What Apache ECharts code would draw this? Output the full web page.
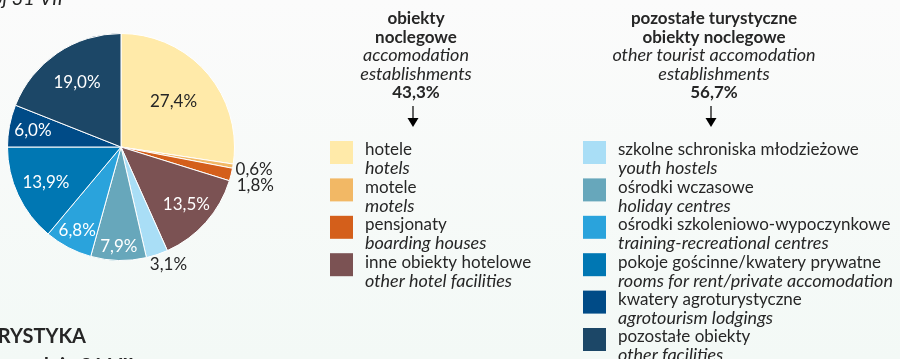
<!DOCTYPE html>
<html>
<head>
<meta charset="utf-8">
<script src="https://cdn.jsdelivr.net/npm/echarts@6/dist/echarts.min.js"></script>
<style>
  html, body { margin: 0; padding: 0; }
  #chart { width: 900px; height: 359px; }
</style>
</head>
<body>
<div id="chart"></div>
<script>
// Structure of tourist accommodation (share of establishments, %)
const hotelNamesPl = ['hotele', 'motele', 'pensjonaty', 'inne obiekty hotelowe'];
const hotelNamesEn = ['hotels', 'motels', 'boarding houses', 'other hotel facilities'];
const hotelShares = [27.4, 0.6, 1.8, 13.5];

const otherNamesPl = ['szkolne schroniska młodzieżowe', 'ośrodki wczasowe', 'ośrodki szkoleniowo-wypoczynkowe',
  'pokoje gościnne/kwatery prywatne', 'kwatery agroturystyczne', 'pozostałe obiekty'];
const otherNamesEn = ['youth hostels', 'holiday centres', 'training-recreational centres',
  'rooms for rent/private accomodation', 'agrotourism lodgings', 'other facilities'];
const otherShares = [3.1, 7.9, 6.8, 13.9, 6.0, 19.0];

const groupTitles = [
  { pl: ['obiekty', 'noclegowe'], en: ['accomodation', 'establishments'] },
  { pl: ['pozostałe turystyczne', 'obiekty noclegowe'], en: ['other tourist accomodation', 'establishments'] }
];

const hotelColors = ['#FFEAA9', '#F2B865', '#D45F1B', '#7B5253'];
const otherColors = ['#A9DEF6', '#67A7BB', '#2AA3DC', '#0077B3', '#004B87', '#1C4767'];

const FONT = 'Lato, "Open Sans", sans-serif';
const TEXT = '#262626';
const CENTER = [121, 147];
const RADIUS = 113.5;

const allShares = hotelShares.concat(otherShares);
const allColors = hotelColors.concat(otherColors);
const allNames = hotelNamesPl.concat(otherNamesPl);
const total = allShares.reduce((a, b) => a + b, 0);

// label distance from centre, as a fraction of the radius, per slice
const labelRadius = [0.61, 1.19, 1.22, 0.77, 1.12, 0.88, 0.83, 0.73, 0.79, 0.69];
const labelNudge = { 2: [0, 5], 4: [7, -3] };
const outsideLabel = [false, true, true, false, true, false, false, false, false, false];

const fmt = v => v.toFixed(1).replace('.', ',') + '%';

const pieData = allShares.map((v, i) => ({
  name: allNames[i],
  value: v,
  itemStyle: { color: allColors[i] },
  label: { color: (i === 0 || outsideLabel[i]) ? TEXT : '#ffffff' }
}));

function midAngle(i) {
  let before = 0;
  for (let k = 0; k < i; k++) before += allShares[k];
  return (before + allShares[i] / 2) / total * Math.PI * 2;
}

// legend blocks
const graphics = [];
function legendColumn(x0, namesPl, namesEn, colors) {
  const top0 = 141, step = 37.4;
  namesPl.forEach((n, i) => {
    const top = top0 + i * step;
    graphics.push({ type: 'rect', shape: { x: x0, y: top, width: 23, height: 23 }, style: { fill: colors[i] } });
    graphics.push({ type: 'text', x: x0 + 35, y: top + 9,
      style: { text: n, font: '17px ' + FONT, fill: TEXT, verticalAlign: 'middle' } });
    graphics.push({ type: 'text', x: x0 + 35, y: top + 27.5,
      style: { text: namesEn[i], font: 'italic 18px ' + FONT, fill: TEXT, verticalAlign: 'middle' } });
  });
}
legendColumn(330, hotelNamesPl, hotelNamesEn, hotelColors);
legendColumn(583, otherNamesPl, otherNamesEn, otherColors);

function header(cx, title, share) {
  const lines = [
    { t: title.pl[0], f: 'bold 17px ' + FONT },
    { t: title.pl[1], f: 'bold 17px ' + FONT },
    { t: title.en[0], f: 'italic 18px ' + FONT },
    { t: title.en[1], f: 'italic 18px ' + FONT },
    { t: fmt(share), f: 'bold 17px ' + FONT }
  ];
  lines.forEach((l, i) => {
    graphics.push({ type: 'text', x: cx, y: 19 + i * 18.3,
      style: { text: l.t, font: l.f, fill: TEXT, align: 'center', verticalAlign: 'middle' } });
  });
  const ax = cx - 3;
  graphics.push({ type: 'line', shape: { x1: ax, y1: 106, x2: ax, y2: 119 }, style: { stroke: '#000', lineWidth: 1.2 } });
  graphics.push({ type: 'polygon', shape: { points: [[ax - 5.5, 118], [ax + 5.5, 118], [ax, 127]] }, style: { fill: '#000' } });
}
header(416, groupTitles[0], hotelShares.reduce((a, b) => a + b, 0));
header(714, groupTitles[1], otherShares.reduce((a, b) => a + b, 0));

// fragments of neighbouring panel titles
graphics.push({ type: 'text', x: -8, y: 9,
  style: { text: 'oj 31 VII', font: 'italic 20px ' + FONT, fill: TEXT, verticalAlign: 'bottom' } });
graphics.push({ type: 'text', x: 86, y: 347,
  style: { text: 'TURYSTYKA', font: 'bold 20px ' + FONT, fill: TEXT, align: 'right', verticalAlign: 'bottom' } });
graphics.push({ type: 'text', x: 134, y: 377,
  style: { text: 'Stan z dnia 31 VII', font: 'bold 20px ' + FONT, fill: TEXT, align: 'right', verticalAlign: 'bottom' } });

const chart = echarts.init(document.getElementById('chart'), null, { renderer: 'canvas' });
chart.setOption({
  backgroundColor: {
    type: 'linear', x: 0, y: 0, x2: 0, y2: 1,
    colorStops: [{ offset: 0, color: '#fbfbfb' }, { offset: 1, color: '#f3f9f6' }]
  },
  animation: false,
  series: [{
    type: 'pie',
    center: CENTER,
    radius: RADIUS,
    startAngle: 90,
    clockwise: true,
    avoidLabelOverlap: false,
    itemStyle: { borderColor: '#ffffff', borderWidth: 1 },
    label: {
      show: true,
      position: 'inside',
      fontFamily: FONT,
      fontSize: 17,
      formatter: p => fmt(p.value)
    },
    labelLine: { show: false },
    labelLayout: params => {
      const i = params.dataIndex;
      const a = midAngle(i);
      const r = RADIUS * labelRadius[i];
      const n = labelNudge[i] || [0, 0];
      return {
        x: CENTER[0] + Math.sin(a) * r + n[0],
        y: CENTER[1] - Math.cos(a) * r + n[1],
        align: 'center',
        verticalAlign: 'middle'
      };
    },
    emphasis: { disabled: true },
    data: pieData
  }],
  graphic: graphics
});
</script>
</body>
</html>
